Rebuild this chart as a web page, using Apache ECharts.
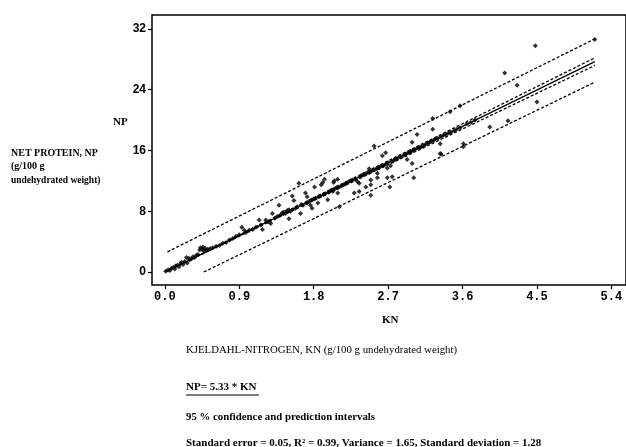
<!DOCTYPE html>
<html><head><meta charset="utf-8">
<script src="https://cdn.jsdelivr.net/npm/echarts@6/dist/echarts.min.js"></script>
<style>html,body{margin:0;padding:0;background:#fff}#c{width:626px;height:447px}</style>
</head><body><div id="c"></div>
<script>
// Tick labels
const xTicks = [0, 0.9, 1.8, 2.7, 3.6, 4.5, 5.4];
const yTicks = [0, 8, 16, 24, 32];
// Observations [KN, NP]
const obsLow = [[0.01,0.1],[0.04,0.3],[0.06,0.2],[0.08,0.5],[0.1,0.6],[0.12,0.4],[0.13,0.8],[0.15,0.9],[0.17,0.7],[0.19,1.1],[0.2,1.3],[0.22,1.0],[0.24,1.4],[0.26,1.9],[0.27,1.2],[0.29,1.8],[0.3,1.6],[0.32,1.7],[0.34,2.0],[0.36,1.9],[0.38,2.2],[0.4,2.3],[0.42,2.9],[0.43,3.2],[0.45,3.0],[0.46,3.3],[0.47,2.8],[0.49,3.1],[0.5,2.9],[0.52,3.0],[0.55,3.1]];
const obsMid1 = [[0.58,3.2],[0.62,3.4],[0.66,3.5],[0.7,3.8],[0.74,3.9],[0.78,4.2],[0.82,4.4],[0.86,4.7],[0.9,4.9],[0.93,5.9],[0.96,5.5],[0.98,5.2],[1.02,5.5],[1.06,5.6],[1.1,5.9],[1.14,6.85],[1.16,6.2],[1.18,5.6],[1.22,6.85],[1.25,6.6],[1.28,6.4],[1.3,7.7]];
const obsMid2 = [[1.33,7.1],[1.36,7.3],[1.38,8.8],[1.4,7.5],[1.42,7.8],[1.44,7.9],[1.46,7.7],[1.48,8.1],[1.5,8.2],[1.5,7.0],[1.52,8.0],[1.54,10.0],[1.56,9.4],[1.58,8.4],[1.6,8.6],[1.62,11.7],[1.64,7.7],[1.65,8.9],[1.67,8.8],[1.7,10.4],[1.72,9.9],[1.72,9.1],[1.74,9.3],[1.76,8.8],[1.78,8.4],[1.78,9.5],[1.8,9.6],[1.81,11.2],[1.82,9.7],[1.85,9.1],[1.86,9.9],[1.88,10.0],[1.89,11.5],[1.91,11.8],[1.93,12.2],[1.92,10.2],[1.94,10.3],[1.97,9.5],[1.98,10.5]];
const obsMid3 = [[2.0,10.7],[2.02,10.8],[2.03,10.6],[2.04,11.8],[2.05,12.0],[2.06,11.0],[2.08,11.1],[2.09,12.2],[2.09,10.4],[2.1,11.2],[2.11,8.6],[2.13,11.3],[2.16,11.5],[2.18,11.6],[2.2,11.7],[2.22,11.9],[2.25,12.0],[2.27,12.1],[2.29,10.4],[2.3,12.2],[2.33,11.9],[2.35,11.7],[2.35,10.6],[2.36,12.5],[2.38,12.7],[2.4,12.8],[2.43,11.2],[2.44,13.0],[2.47,13.6],[2.47,13.1],[2.49,12.1],[2.49,11.5],[2.49,10.1],[2.5,13.3],[2.53,16.6],[2.53,13.5],[2.56,13.6],[2.57,13.0],[2.57,12.4],[2.59,13.8],[2.61,13.9],[2.63,15.3],[2.64,14.0],[2.67,15.7],[2.67,14.2],[2.69,13.7],[2.69,12.4],[2.7,14.4],[2.72,11.2],[2.73,14.0],[2.74,14.6],[2.75,12.55],[2.77,14.7],[2.79,14.9]];
const obsHigh = [[2.82,15.0],[2.85,15.2],[2.88,15.3],[2.91,15.5],[2.93,14.8],[2.94,15.7],[2.97,15.9],[2.97,15.8],[2.99,17.1],[2.99,14.3],[3.0,16.0],[3.01,12.4],[3.02,16.1],[3.05,18.1],[3.05,16.3],[3.08,16.4],[3.1,16.5],[3.12,16.6],[3.15,16.8],[3.18,17.0],[3.2,17.1],[3.22,17.2],[3.24,20.2],[3.24,18.8],[3.25,17.3],[3.27,17.5],[3.3,17.6],[3.33,16.9],[3.33,15.6],[3.34,15.5],[3.34,17.8],[3.37,18.0],[3.4,18.1],[3.43,18.3],[3.45,21.1],[3.46,18.4],[3.5,18.6],[3.53,18.8],[3.57,21.9],[3.57,19.0],[3.61,16.9],[3.61,16.5],[3.65,19.5],[3.7,19.7],[3.75,20.0],[3.93,19.1],[4.11,26.2],[4.15,19.9],[4.26,24.6],[4.48,29.8],[4.5,22.4],[5.2,30.6]];
// Fitted line and intervals [KN, NP]
const fitLine = [[0.01,0.05],[5.2,27.7]];
const confUpper = [[0.01,0.05],[5.2,28.2]];
const confLower = [[0.01,0.05],[5.2,27.2]];
const predUpper = [[0.03,2.65],[5.2,30.7]];
const predLower = [[0.47,0],[5.2,25.0]];

const observations = [].concat(obsLow, obsMid1, obsMid2, obsMid3, obsHigh);

const chart = echarts.init(document.getElementById('c'), null, {renderer:'canvas'});
const serif = 'Liberation Serif';
const dash = {type:[3,2], color:'#000', width:1.3};
chart.setOption({
  animation:false,
  grid:{left:152, top:15, right:-5, bottom:162, show:true, borderColor:'#000', borderWidth:1.5, containLabel:false},
  xAxis:{type:'value', min:-0.156, max:5.577,
    axisLine:{show:false, onZero:false}, splitLine:{show:false},
    axisTick:{show:true, customValues:xTicks, length:4, inside:false, lineStyle:{color:'#000', width:1.2}},
    axisLabel:{customValues:xTicks, formatter:v=>v.toFixed(1), fontFamily:'Liberation Mono', fontWeight:'bold', fontSize:12, color:'#000', margin:6}
  },
  yAxis:{type:'value', min:-1.71, max:33.84,
    axisLine:{show:false, onZero:false}, splitLine:{show:false},
    axisTick:{show:true, customValues:yTicks, length:4, lineStyle:{color:'#000', width:1.2}},
    axisLabel:{customValues:yTicks, fontFamily:'Liberation Sans', fontWeight:'bold', fontSize:12, color:'#000', margin:6}
  },
  series:[
    {type:'line', data:fitLine, symbol:'none', lineStyle:{color:'#000', width:1.3}, z:3},
    {type:'line', data:confUpper, symbol:'none', lineStyle:dash},
    {type:'line', data:confLower, symbol:'none', lineStyle:dash},
    {type:'line', data:predUpper, symbol:'none', lineStyle:dash},
    {type:'line', data:predLower, symbol:'none', lineStyle:dash},
    {type:'scatter', data:observations, symbol:'diamond', symbolSize:5, itemStyle:{color:'#000'}, z:4}
  ],
  graphic:[
    {type:'text', left:113, top:117, style:{text:'NP', font:'bold 11px '+serif, fill:'#000'}},
    {type:'text', left:11, top:148, style:{text:'NET PROTEIN, NP', font:'bold 10px '+serif, fill:'#000'}},
    {type:'text', left:11, top:161, style:{text:'(g/100 g', font:'bold 10px '+serif, fill:'#000'}},
    {type:'text', left:11, top:176, style:{text:'undehydrated weight)', font:'bold 9.5px '+serif, fill:'#000'}},
    {type:'text', left:382, top:315, style:{text:'KN', font:'bold 11px '+serif, fill:'#000'}},
    {type:'text', left:186, top:345, style:{text:'KJELDAHL-NITROGEN, KN (g/100 g undehydrated weight)', font:'10.8px '+serif, fill:'#000'}},
    {type:'text', left:186, top:382, style:{text:'NP= 5.33 * KN', font:'bold 11px '+serif, fill:'#000'}},
    {type:'line', shape:{x1:186, y1:395, x2:259, y2:395}, style:{stroke:'#000', lineWidth:1}},
    {type:'text', left:186, top:412, style:{text:'95 % confidence and prediction intervals', font:'bold 10.8px '+serif, fill:'#000'}},
    {type:'text', left:186, top:438, style:{text:'Standard error = 0.05, R² = 0.99, Variance = 1.65, Standard deviation = 1.28', font:'bold 11px '+serif, fill:'#000'}}
  ]
});
</script></body></html>
